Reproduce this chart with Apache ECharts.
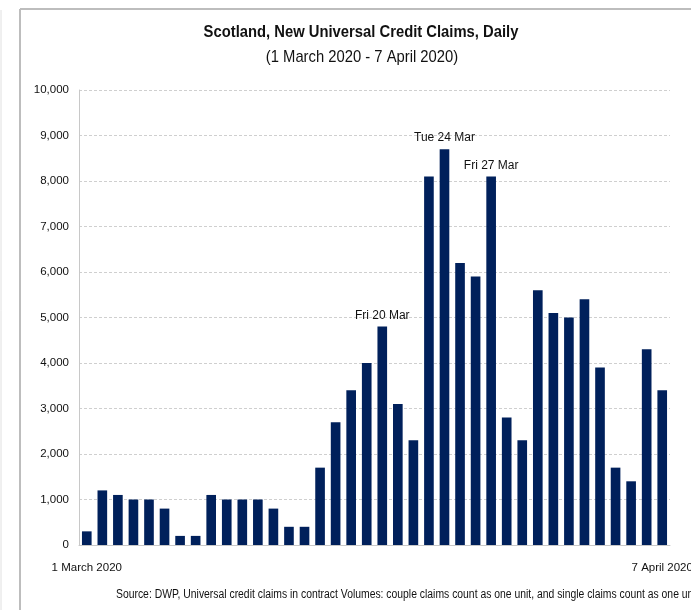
<!DOCTYPE html>
<html><head><meta charset="utf-8">
<script src="https://cdn.jsdelivr.net/npm/echarts@6/dist/echarts.min.js"></script>
<style>html,body{margin:0;padding:0;background:#fff}#c{width:691px;height:610px}</style>
</head><body><div id="c"></div>
<script>
const categories = ['1 Mar','2 Mar','3 Mar','4 Mar','5 Mar','6 Mar','7 Mar','8 Mar','9 Mar','10 Mar','11 Mar','12 Mar','13 Mar','14 Mar','15 Mar','16 Mar','17 Mar','18 Mar','19 Mar','20 Mar','21 Mar','22 Mar','23 Mar','24 Mar','25 Mar','26 Mar','27 Mar','28 Mar','29 Mar','30 Mar','31 Mar','1 Apr','2 Apr','3 Apr','4 Apr','5 Apr','6 Apr','7 Apr'];
const claims = [300,1200,1100,1000,1000,800,200,200,1100,1000,1000,1000,800,400,400,1700,2700,3400,4000,4800,3100,2300,8100,8700,6200,5900,8100,2800,2300,5600,5100,5000,5400,3900,1700,1400,4300,3400];
const edgeLabels = {0:'1 March 2020', 37:'7 April 2020'};
const annotations = {19:'Fri 20 Mar', 23:'Tue 24 Mar', 26:'Fri 27 Mar'};
const titleText = 'Scotland, New Universal Credit Claims, Daily';
const subtitleText = '(1 March 2020 - 7 April 2020)';
const sourceText = 'Source: DWP, Universal credit claims in contract Volumes: couple claims count as one unit, and single claims count as one unit';
const FONT = '"Liberation Sans",Arial,sans-serif';

const chart = echarts.init(document.getElementById('c'), null, {renderer:'canvas'});
chart.setOption({
  animation:false,
  backgroundColor:'#fff',
  graphic:[
    {type:'line',shape:{x1:20,y1:9,x2:700,y2:9},style:{stroke:'#bdbdbd',lineWidth:2},z:0},
    {type:'line',shape:{x1:20,y1:9,x2:20,y2:620},style:{stroke:'#bdbdbd',lineWidth:2},z:0},
    {type:'line',shape:{x1:1,y1:10,x2:1,y2:620},style:{stroke:'#e0e0e0',lineWidth:1},z:0},
    {type:'text',x:361,y:32,scaleX:0.87,style:{text:titleText,font:'bold 17px '+FONT,fill:'#111',align:'center',verticalAlign:'middle'}},
    {type:'text',x:362,y:57,scaleX:0.87,style:{text:subtitleText,font:'17px '+FONT,fill:'#111',align:'center',verticalAlign:'middle'}},
    {type:'text',x:116,y:595,scaleX:0.865,style:{text:sourceText,font:'12px '+FONT,fill:'#111',align:'left',verticalAlign:'middle'}}
  ],
  grid:{left:79,right:21,top:90,bottom:65,outerBoundsMode:'none',containLabel:false},
  xAxis:{
    type:'category',data:categories,
    axisLine:{show:true,lineStyle:{color:'#c8c8c8'}},
    axisTick:{show:false},
    axisLabel:{interval:0,margin:17,fontFamily:FONT,fontSize:11.5,color:'#111',
      formatter:(v,i)=>edgeLabels[i]||''}
  },
  yAxis:{
    type:'value',min:0,max:10000,interval:1000,
    axisLine:{show:true,lineStyle:{color:'#c8c8c8'}},
    axisTick:{show:false},
    splitLine:{lineStyle:{color:'#cfcfcf',type:[3,2]}},
    axisLabel:{margin:10,fontFamily:FONT,fontSize:11.5,color:'#111',
      formatter:v=>v.toLocaleString('en-US')}
  },
  series:[{
    type:'bar',barCategoryGap:'38%',
    itemStyle:{color:'#00205b'},
    data:claims.map((v,i)=>annotations[i]?{value:v,label:{show:true,position:'top',distance:5,formatter:annotations[i],fontFamily:FONT,fontSize:12,color:'#111'}}:v)
  }]
});
</script></body></html>
